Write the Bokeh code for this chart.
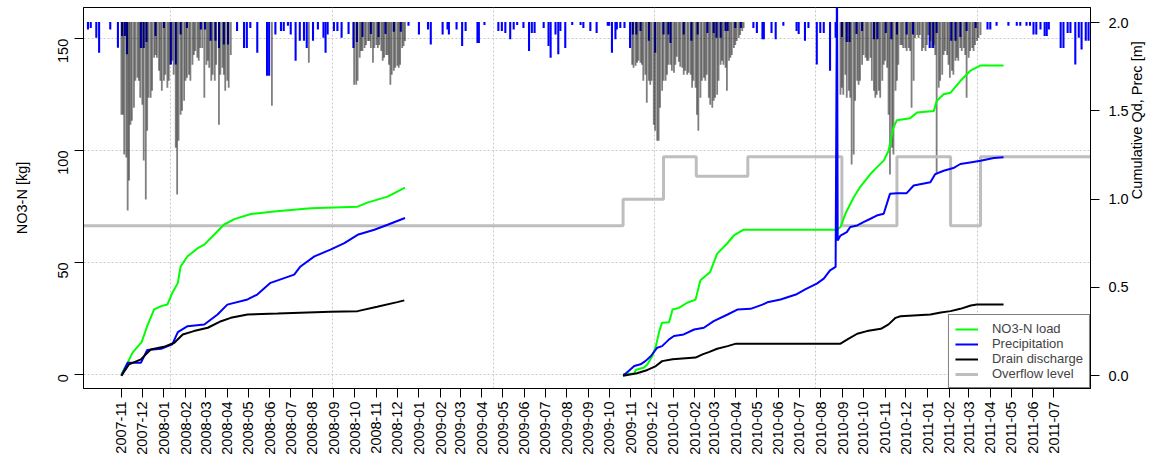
import math
import pandas as pd
from bokeh.plotting import figure
from bokeh.models import (Range1d, LinearAxis, FixedTicker, Legend, LegendItem,
                          DatetimeTickFormatter)
from bokeh.embed import file_html
from bokeh.resources import INLINE

FONT = "Liberation Sans"

# ---------------- data (day offsets are days since 2007-11-01) ----------------
ORIGIN = "2007-11-01"

month_labels = ["2007-11", "2007-12",
                "2008-01", "2008-02", "2008-03", "2008-04", "2008-05", "2008-06",
                "2008-07", "2008-08", "2008-09", "2008-10", "2008-11", "2008-12",
                "2009-01", "2009-02", "2009-03", "2009-04", "2009-05", "2009-06",
                "2009-07", "2009-08", "2009-09", "2009-10", "2009-11", "2009-12",
                "2010-01", "2010-02", "2010-03", "2010-04", "2010-05", "2010-06",
                "2010-07", "2010-08", "2010-09", "2010-10", "2010-11", "2010-12",
                "2011-01", "2011-02", "2011-03", "2011-04", "2011-05", "2011-06",
                "2011-07"]

left_ticks = [0, 50, 100, 150]
right_ticks = [0.0, 0.5, 1.0, 1.5, 2.0]
right_tick_labels = ["0.0", "0.5", "1.0", "1.5", "2.0"]
left_title = "NO3-N [kg]"
right_title = "Cumulative Qd, Prec [m]"

# daily precipitation [mm] (day, mm)
prec_events = [(-48, 2.5), (-44, 2.0), (-36, 5.3), (-32, 10.3), (-16, 2.5), (-5, 8.6),
               (1, 4.7), (5, 4.7), (8, 10.8), (28, 8.7), (32, 8.7), (36, 6.7), (49, 4.7),
               (61, 2.0), (71, 14.2), (78, 14.2), (85, 4.2), (94, 2.0), (114, 2.5), (120, 2.5),
               (128, 6.3), (135, 6.3), (140, 8.7), (147, 7.5), (153, 7.5), (166, 3.0), (176, 8.7),
               (180, 8.7), (185, 2.0), (195, 10.3), (209, 18.0), (212, 18.0), (221, 4.2), (229, 3.0),
               (233, 3.0), (239, 1.3), (243, 4.2), (250, 13.0), (256, 6.3), (262, 6.3), (266, 8.7),
               (275, 6.3), (282, 2.5), (290, 5.3), (293, 10.3), (296, 4.2), (305, 3.0), (310, 3.0),
               (316, 5.3), (326, 4.0), (333, 8.7), (338, 6.7), (346, 5.0), (358, 4.0), (369, 5.0),
               (379, 4.0), (391, 3.3), (401, 3.3), (412, 1.3), (427, 4.2), (440, 2.5), (444, 7.5),
               (461, 4.2), (468, 2.5), (470, 4.2), (481, 2.5), (489, 8.0), (494, 3.0), (511, 7.0),
               (513, 7.0), (521, 1.0), (541, 3.0), (546, 3.0), (551, 3.7), (558, 5.8), (563, 2.5),
               (568, 1.0), (577, 2.0), (585, 9.7), (589, 3.7), (593, 3.7), (606, 2.0), (613, 8.0),
               (616, 12.0), (623, 4.2), (627, 10.8), (630, 3.0), (637, 8.7), (647, 1.0), (659, 1.0),
               (663, 2.0), (673, 3.0), (682, 3.7), (698, 1.3), (700, 1.3), (704, 10.3), (709, 5.8),
               (711, 2.5), (716, 2.0), (722, 2.0), (730, 8.7), (734, 4.2), (739, 4.2), (745, 3.0),
               (757, 6.3), (766, 10.3), (778, 4.2), (785, 4.2), (788, 7.0), (807, 4.2), (818, 6.3),
               (827, 4.2), (841, 3.7), (850, 3.7), (854, 5.3), (860, 5.3), (867, 3.0), (870, 3.0),
               (881, 2.0), (889, 2.0), (907, 2.0), (912, 3.7), (920, 5.8), (922, 5.8), (933, 3.7),
               (939, 5.8), (950, 1.3), (969, 3.0), (972, 4.0), (981, 6.3), (986, 2.0), (998, 14.2),
               (1003, 3.7), (1008, 3.7), (1017, 16.3), (1025, 5.3), (1034, 5.0), (1041, 6.7),
               (1045, 6.7), (1055, 4.0), (1063, 3.0), (1080, 5.8), (1085, 5.8), (1097, 3.7),
               (1105, 5.8), (1113, 4.2), (1127, 4.2), (1136, 4.2), (1160, 8.7), (1165, 8.7),
               (1170, 3.7), (1191, 6.3), (1197, 6.3), (1204, 5.0), (1213, 3.0), (1226, 2.0),
               (1243, 2.5), (1247, 2.5), (1256, 1.3), (1273, 1.3), (1285, 1.3), (1290, 1.3),
               (1299, 1.3), (1304, 1.3), (1309, 4.2), (1313, 4.2), (1319, 2.5), (1325, 4.7),
               (1328, 4.7), (1331, 2.5), (1348, 8.7), (1352, 8.7), (1358, 3.7), (1362, 3.7),
               (1369, 14.2), (1374, 5.3), (1378, 9.2), (1384, 6.3), (1388, 6.3)]

# drain discharge intensity (day, value)
drain_q_1 = [(0, 9.3), (2, 9.3), (4, 13.3), (7, 13.6), (9, 18.9), (11, 15.9), (13, 10.3), (15, 9.9),
             (18, 8.6), (20, 5.9), (23, 5.6), (25, 5.9), (27, 7.6), (30, 8.3), (32, 13.9), (35, 17.8),
             (37, 10.9), (39, 7.6), (42, 7.6), (44, 6.9), (47, 3.6), (49, 3.3), (51, 3.6), (54, 4.9),
             (56, 5.9), (58, 6.9), (61, 5.9), (63, 5.3), (66, 6.6), (68, 5.9), (70, 4.3), (73, 3.9),
             (75, 5.3), (78, 12.6), (80, 17.3), (82, 11.9), (85, 9.3), (87, 8.9), (90, 7.9), (92, 5.9),
             (94, 5.6), (97, 5.3), (99, 5.9), (102, 4.3), (104, 3.3), (106, 2.9), (109, 3.6), (111, 3.9),
             (113, 2.6), (116, 2.6), (119, 7.6), (122, 4.3), (124, 3.9), (126, 4.6), (129, 5.9),
             (131, 5.3), (134, 5.9), (136, 4.3), (140, 10.3), (142, 5.3), (145, 4.6), (147, 5.3),
             (149, 6.9), (152, 5.9), (154, 6.6), (157, 3.3), (216, 8.4), (269, 4.1)]
drain_q_2 = [(334, 6.3), (337, 6.3), (339, 5.9), (342, 3.6), (344, 2.9), (346, 2.9), (349, 2.6),
             (351, 2.3), (354, 1.9), (356, 1.9), (358, 2.6), (361, 4.1), (363, 2.6), (366, 2.3),
             (368, 2.6), (370, 2.3), (373, 2.9), (375, 3.9), (377, 3.6), (380, 3.3), (382, 3.3),
             (384, 4.3), (386, 6.3), (388, 5.3), (391, 4.9), (393, 4.6), (396, 4.4), (398, 4.6),
             (400, 4.3), (403, 2.6), (405, 2.4), (407, 1.9)]
drain_q_3 = [(733, 4.3), (735, 4.6), (738, 4.4), (740, 4.1), (742, 3.9), (745, 4.1), (747, 4.3),
             (749, 5.9), (752, 5.3), (754, 8.1), (757, 5.9), (759, 6.3), (761, 5.9), (764, 10.3),
             (766, 10.9), (769, 11.9), (771, 11.9), (773, 8.6), (776, 6.9), (778, 5.9), (781, 5.9),
             (783, 5.3), (785, 4.3), (788, 4.3), (790, 4.9), (793, 5.1), (795, 4.3), (797, 3.5),
             (800, 4.0), (802, 4.5), (805, 4.6), (807, 5.3), (809, 4.9), (812, 5.3), (814, 5.1),
             (817, 5.3), (819, 6.6), (821, 5.9), (824, 6.6), (826, 9.3), (828, 10.9), (831, 7.6),
             (833, 5.9), (836, 5.6), (838, 5.9), (840, 5.3), (843, 7.6), (845, 8.3), (848, 8.6),
             (850, 7.9), (852, 7.6), (855, 7.3), (857, 5.9), (860, 4.3), (862, 3.9), (864, 4.3),
             (867, 4.6), (869, 6.9), (872, 3.9), (874, 3.6), (876, 3.3), (879, 2.6), (881, 2.3),
             (883, 1.9), (886, 1.6), (888, 1.3), (891, 0.9), (893, 0.6)]
drain_q_4 = [(1032, 7.3), (1034, 6.6), (1036, 7.3), (1039, 5.3), (1041, 7.6), (1044, 6.9), (1046, 7.6),
             (1048, 14.3), (1051, 13.3), (1053, 7.9), (1056, 5.9), (1058, 6.3), (1060, 5.9), (1063, 4.3),
             (1065, 3.3), (1068, 3.6), (1070, 3.9), (1072, 3.9), (1075, 3.6), (1077, 5.9), (1080, 6.9),
             (1082, 7.6), (1084, 7.3), (1087, 6.9), (1089, 7.6), (1092, 5.9), (1094, 4.3), (1096, 3.9),
             (1099, 4.6), (1101, 9.3), (1103, 15.3), (1106, 12.6), (1108, 13.3), (1111, 6.9),
             (1113, 5.9), (1115, 4.3), (1118, 2.3), (1120, 2.3), (1122, 2.6), (1125, 2.6), (1127, 2.9),
             (1130, 2.6), (1132, 2.9), (1134, 8.6), (1137, 5.9), (1139, 1.6), (1142, 1.3), (1144, 1.6),
             (1146, 1.3), (1149, 2.9), (1151, 2.6), (1154, 2.9), (1156, 2.3), (1158, 1.3), (1161, 1.9),
             (1163, 2.6), (1166, 2.3), (1168, 3.3), (1170, 15.3), (1173, 6.6), (1175, 5.9), (1178, 5.3),
             (1180, 3.3), (1182, 2.9), (1185, 3.3), (1187, 4.3), (1189, 5.6), (1192, 4.9), (1194, 5.3),
             (1197, 3.9), (1199, 3.6), (1201, 3.9), (1204, 2.6), (1206, 2.9), (1209, 2.6), (1211, 3.3),
             (1213, 7.6), (1216, 3.6), (1218, 2.9), (1221, 2.6), (1223, 2.9), (1225, 2.3), (1228, 1.9),
             (1230, 1.6), (1233, 1.3)]

# cumulative NO3-N load [kg]
no3_1 = [(0, 0), (9, 5.1), (16, 9.6), (29, 14.3), (37, 21.4), (47, 28.9), (57, 30.4), (66, 31.1),
         (73, 36.3), (81, 40.8), (85, 48.2), (95, 52.7), (109, 56.2), (119, 57.9), (133, 62.3),
         (147, 66.8), (162, 69.3), (186, 71.6), (219, 72.7), (272, 74.2), (339, 74.9), (353, 76.7),
         (382, 79.4), (407, 83.4)]
no3_2 = [(720, 0), (736, 0.3), (738, 1.8), (750, 2.9), (755, 4.4), (762, 8.1), (767, 12.5),
         (772, 19.2), (776, 23.0), (786, 23.2), (791, 28.9), (800, 29.6), (812, 31.9), (824, 33.3),
         (831, 42.0), (845, 45.7), (855, 53.9), (869, 58.3), (879, 62.0), (893, 64.6), (1027, 64.6),
         (1032, 65.8), (1039, 71.7), (1051, 79.1), (1060, 83.6), (1075, 89.5), (1082, 91.8),
         (1094, 95.5), (1101, 99.9), (1108, 110.3), (1113, 113.6), (1132, 114.5), (1142, 117.0),
         (1166, 117.7), (1170, 122.2), (1180, 125.2), (1190, 125.9), (1204, 131.1), (1218, 135.6),
         (1233, 138.1), (1266, 138.1)]

# cumulative precipitation [m]
prec_cum_1 = [(0, 0), (9, 0.074), (28, 0.074), (37, 0.146), (57, 0.153), (73, 0.178), (81, 0.247),
              (95, 0.281), (119, 0.29), (138, 0.347), (152, 0.403), (181, 0.432), (195, 0.46),
              (214, 0.526), (248, 0.573), (257, 0.619), (277, 0.676), (300, 0.714), (320, 0.751),
              (339, 0.798), (363, 0.827), (382, 0.855), (407, 0.893)]
prec_cum_2 = [(720, 0), (728, 0.027), (736, 0.055), (745, 0.065), (752, 0.083), (760, 0.112),
              (769, 0.159), (776, 0.168), (786, 0.206), (793, 0.225), (807, 0.234), (822, 0.262),
              (836, 0.272), (850, 0.309), (870, 0.347), (884, 0.375), (903, 0.379), (920, 0.403),
              (927, 0.416), (946, 0.432), (968, 0.46), (982, 0.49), (998, 0.522), (1008, 0.55),
              (1017, 0.597), (1025, 0.616), (1027, 2.3), (1028, 0.766), (1032, 0.794), (1041, 0.813),
              (1046, 0.842), (1056, 0.851), (1065, 0.87), (1075, 0.889), (1084, 0.907), (1094, 0.917),
              (1103, 1.03), (1113, 1.034), (1127, 1.034), (1137, 1.077), (1161, 1.096), (1168, 1.142),
              (1180, 1.161), (1194, 1.176), (1204, 1.199), (1218, 1.208), (1233, 1.217), (1252, 1.233),
              (1266, 1.237)]

# cumulative drain discharge [m]
drain_cum_1 = [(0, 0), (11, 0.065), (28, 0.093), (42, 0.149), (61, 0.164), (76, 0.187), (88, 0.234),
               (104, 0.253), (124, 0.272), (143, 0.309), (157, 0.328), (181, 0.347), (224, 0.352),
               (300, 0.362), (339, 0.366), (367, 0.391), (396, 0.417), (406, 0.427)]
drain_cum_2 = [(720, 0), (740, 0.014), (755, 0.033), (767, 0.055), (776, 0.083), (791, 0.093),
               (824, 0.103), (834, 0.121), (843, 0.134), (855, 0.153), (870, 0.168), (882, 0.182),
               (1032, 0.182), (1042, 0.206), (1056, 0.238), (1070, 0.253), (1090, 0.266), (1101, 0.291),
               (1111, 0.328), (1118, 0.337), (1161, 0.347), (1176, 0.358), (1190, 0.366), (1204, 0.379),
               (1219, 0.398), (1228, 0.403), (1266, 0.403)]

# overflow level [m] (step changes)
overflow_day = [-60, 720, 778, 825, 899, 1034, 1113, 1190, 1233, 1420]
overflow_m = [0.85, 1.0, 1.24, 1.13, 1.24, 0.85, 1.24, 0.85, 1.24, 1.24]

# ---------------- helpers ----------------
DAY_MS = 86400000.0
ORIGIN_MS = pd.Timestamp(ORIGIN).value / 1e6


def day_ms(d):
    return ORIGIN_MS + d * DAY_MS


def joined(*segments):
    xs, ys = [], []
    for i, seg in enumerate(segments):
        if i:
            xs.append(float("nan"))
            ys.append(float("nan"))
        xs += [day_ms(d) for d, _ in seg]
        ys += [v for _, v in seg]
    return xs, ys


month_ms = [pd.Timestamp(m + "-01").value / 1e6 for m in month_labels]
grid_ms = [1.20e12, 1.22e12, 1.24e12, 1.26e12, 1.28e12, 1.30e12]

# ---------------- figure ----------------
W, H = 1157, 457
BL, BR, BT, BB = 83, 67, 7, 68
p = figure(width=W, height=H, x_axis_type="datetime",
           x_range=Range1d(day_ms(-54.4), day_ms(1390.8)),
           y_range=Range1d(-6.46, 164.0),
           output_backend="svg", toolbar_location=None, title=None,
           min_border_left=BL, min_border_right=BR, min_border_top=BT, min_border_bottom=BB)
p.extra_y_ranges = {
    "cum": Range1d(-0.072, 2.085),
    "prec": Range1d(start=122.5, end=-4.833),
    "q": Range1d(start=36.75, end=-1.45),
}
p.background_fill_color = "white"
p.border_fill_color = "white"
p.outline_line_color = "black"
p.outline_line_width = 1

# grids
p.xgrid.ticker = FixedTicker(ticks=grid_ms)
p.ygrid.ticker = FixedTicker(ticks=left_ticks)
for g in (p.xgrid, p.ygrid):
    g.grid_line_color = "#C8C8C8"
    g.grid_line_dash = "2 2"
    g.grid_line_width = 1

# bars hanging from the top
p.vbar(x=[day_ms(d) for d, _ in prec_events], width=3.0 * DAY_MS, top=0,
       bottom=[v for _, v in prec_events], fill_color="#0000FF", line_color=None,
       y_range_name="prec")
q_all = drain_q_1 + drain_q_2 + drain_q_3 + drain_q_4
p.vbar(x=[day_ms(d) for d, _ in q_all], width=2.6 * DAY_MS, top=0,
       bottom=[v for _, v in q_all], fill_color="black", fill_alpha=0.5, line_color=None,
       y_range_name="q")

# overflow level
r_over = p.step([day_ms(d) for d in overflow_day], overflow_m, mode="after",
                line_color="#BEBEBE", line_width=3, y_range_name="cum")

gx, gy = joined(no3_1, no3_2)
r_no3 = p.line(gx, gy, line_color="#00FF00", line_width=2)
bx, by = joined(prec_cum_1, prec_cum_2)
r_prec = p.line(bx, by, line_color="#0000FF", line_width=2, y_range_name="cum")
kx, ky = joined(drain_cum_1, drain_cum_2)
r_drain = p.line(kx, ky, line_color="black", line_width=2, y_range_name="cum")


def style_axis(ax):
    ax.axis_line_color = "black"
    ax.major_tick_line_color = "black"
    ax.minor_tick_line_color = None
    ax.major_tick_out = 9
    ax.major_tick_in = 0
    ax.major_label_text_font = FONT
    ax.major_label_text_font_size = "14.5px"
    ax.major_label_text_color = "black"
    ax.axis_label_text_font = FONT
    ax.axis_label_text_font_size = "14.5px"
    ax.axis_label_text_font_style = "normal"
    ax.axis_label_text_color = "black"


xa = p.xaxis[0]
style_axis(xa)
xa.ticker = FixedTicker(ticks=month_ms)
xa.formatter = DatetimeTickFormatter(months="%Y-%m", days="%Y-%m", years="%Y-%m")
xa.major_label_overrides = {t: l for t, l in zip(month_ms, month_labels)}
xa.major_label_orientation = math.pi / 2
xa.major_label_standoff = 4

ya = p.yaxis[0]
style_axis(ya)
ya.ticker = FixedTicker(ticks=left_ticks)
ya.major_label_orientation = math.pi / 2
ya.major_label_standoff = 11
ya.axis_label = left_title
ya.axis_label_standoff = 21

rax = LinearAxis(y_range_name="cum", ticker=FixedTicker(ticks=right_ticks))
style_axis(rax)
rax.major_label_overrides = {t: l for t, l in zip(right_ticks, right_tick_labels)}
rax.major_label_standoff = 9
p.add_layout(rax, "right")

# right-hand axis title (reads bottom to top, like R's mtext on side 4)
title_pos = 1.0
tax = LinearAxis(y_range_name="cum", ticker=FixedTicker(ticks=[title_pos]))
style_axis(tax)
tax.axis_line_color = None
tax.major_tick_line_color = None
tax.major_tick_out = 0
tax.major_label_overrides = {title_pos: right_title}
tax.major_label_orientation = math.pi / 2
tax.major_label_standoff = 6
p.add_layout(tax, "right")

legend = Legend(items=[LegendItem(label="NO3-N load", renderers=[r_no3]),
                       LegendItem(label="Precipitation", renderers=[r_prec]),
                       LegendItem(label="Drain discharge", renderers=[r_drain]),
                       LegendItem(label="Overflow level", renderers=[r_over])],
                location="bottom_right", margin=0, padding=6, spacing=0,
                label_text_font=FONT, label_text_font_size="13px",
                glyph_width=23, glyph_height=14, label_height=14, label_standoff=14,
                border_line_color="black", border_line_width=1,
                background_fill_color="white", background_fill_alpha=1)
p.add_layout(legend)

open("out.html", "w").write(file_html(p, INLINE))
